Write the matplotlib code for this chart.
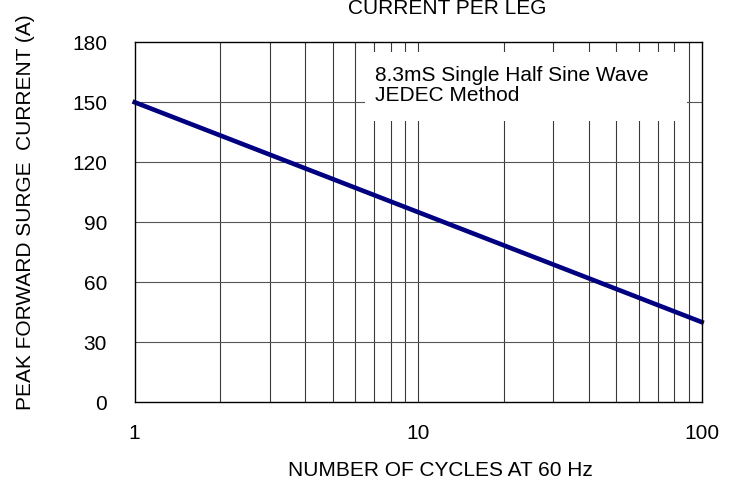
import matplotlib
matplotlib.use("Agg")
import matplotlib.pyplot as plt
from matplotlib.patches import Rectangle

# surge current vs cycles (straight line on log x)
cycles = [1, 100]
surge_amps = [150, 40]

y_ticks = [0, 30, 60, 90, 120, 150, 180]
x_ticks = [1, 10, 100]
x_tick_labels = ["1", "10", "100"]
grid_x = [2, 3, 4, 5, 6, 7, 8, 9, 10, 20, 30, 40, 50, 60, 70, 80, 90]

plt.rcParams["font.family"] = ["Liberation Sans", "DejaVu Sans"]
plt.rcParams["font.size"] = 15

fig = plt.figure(figsize=(7.3, 4.88), dpi=100)
ax = fig.add_axes([0.1845, 0.1762, 0.7767, 0.7371])

ax.set_xscale("log")
ax.set_xlim(1, 100)
ax.set_ylim(0, 180)

for gx in grid_x:
    ax.axvline(gx, color="#3a3a3a", lw=0.8, zorder=1)
for gy in y_ticks[1:-1]:
    ax.axhline(gy, color="#555555", lw=0.8, zorder=1)

# white patch behind the note covers the grid
ax.add_patch(Rectangle((0.406, 0.781), 0.568, 0.192, transform=ax.transAxes,
                       facecolor="white", edgecolor="none", zorder=2))
ax.text(0.424, 0.892, "8.3mS Single Half Sine Wave", transform=ax.transAxes,
        va="baseline", ha="left", fontsize=15, zorder=3)
ax.text(0.424, 0.837, "JEDEC Method", transform=ax.transAxes,
        va="baseline", ha="left", fontsize=15, zorder=3)

ax.plot(cycles, surge_amps, color="#000080", lw=3.3, zorder=4, clip_on=False)

ax.set_xticks(x_ticks)
ax.set_xticklabels(x_tick_labels)
ax.xaxis.set_minor_locator(matplotlib.ticker.NullLocator())
ax.set_yticks(y_ticks)
ax.tick_params(axis="x", length=0, pad=16)
ax.tick_params(axis="y", length=0, pad=20)

for s in ax.spines.values():
    s.set_color("black")
    s.set_linewidth(1)
    s.set_zorder(5)

fig.text(0.603, 1 - 470 / 488, "NUMBER OF CYCLES AT 60 Hz", ha="center", va="center", fontsize=15)
fig.text(26 / 730, 1 - 410 / 488, "PEAK FORWARD SURGE  CURRENT (A)", rotation=90,
         ha="center", va="bottom", fontsize=15)
fig.text(447.5 / 730, 1 - 13.5 / 488, "CURRENT PER LEG", ha="center", va="baseline", fontsize=15)

fig.savefig("out.png", dpi=100)
